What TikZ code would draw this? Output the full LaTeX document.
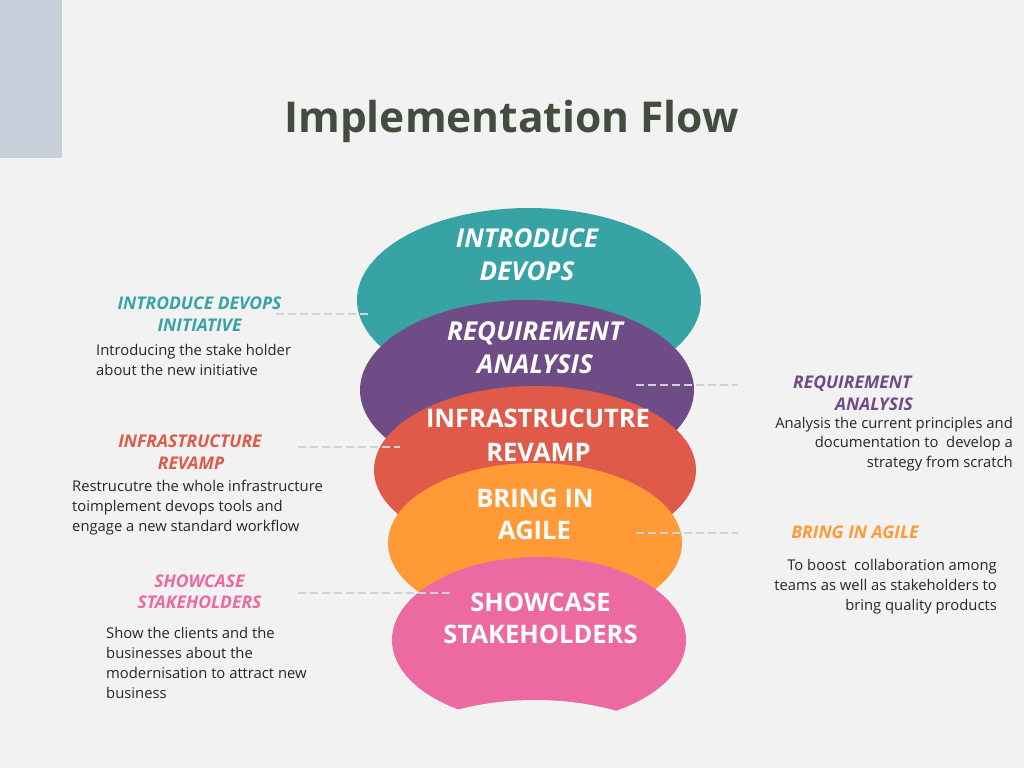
\documentclass[tikz,border=0pt]{standalone}
\usepackage{fontspec}
\setmainfont{Open Sans}
\definecolor{bgc}{HTML}{F1F2F1}
\definecolor{sidec}{HTML}{C8D0DB}
\definecolor{titlec}{HTML}{444C40}
\definecolor{tealc}{HTML}{38A3A5}
\definecolor{purplec}{HTML}{6F4C85}
\definecolor{coralc}{HTML}{E05A49}
\definecolor{orangec}{HTML}{FF9A36}
\definecolor{pinkc}{HTML}{EC69A1}
\definecolor{linec}{HTML}{CDD2DC}
\definecolor{bodyc}{HTML}{262626}
\begin{document}
\begin{tikzpicture}[x=1pt,y=-1pt,
  el/.style={font=\fontsize{25.5}{30}\selectfont\bfseries, text=white, inner sep=0pt, anchor=base},
  eli/.style={el, font=\fontsize{26}{30}\selectfont\bfseries\itshape},
  hd/.style={font=\fontsize{17.5}{20}\selectfont\bfseries\itshape, inner sep=0pt, anchor=base},
  body/.style={font=\fontsize{14.8}{20}\selectfont, text=bodyc, inner sep=0pt},
  bw/.style={body, anchor=base west},
  be/.style={body, anchor=base east},
  conn/.style={draw=linec, line width=1.5pt, dash pattern=on 8pt off 4pt}
]
\useasboundingbox (0,0) rectangle (1024,768);
\fill[bgc] (0,0) rectangle (1024,768);
\fill[sidec] (0,0) rectangle (62,158);

\node[font=\fontsize{42.5}{46}\selectfont\bfseries, text=titlec, inner sep=0pt, anchor=base] (title) at (511.5,132) {Implementation Flow};

% ellipses
\fill[tealc] (529,300) ellipse [x radius=172pt, y radius=92pt];
\fill[purplec] (527,390) ellipse [x radius=167pt, y radius=90pt];
\fill[coralc] (535,470) ellipse [x radius=161pt, y radius=84pt];
\fill[orangec] (535,543) ellipse [x radius=147pt, y radius=80pt];
\fill[pinkc] (539,640) ellipse [x radius=147pt, y radius=83pt];
\begin{scope}
  \clip (539,640) ellipse [x radius=148pt, y radius=84pt];
  \fill[bgc] (535,807) ellipse [x radius=185pt, y radius=107pt];
\end{scope}

% ellipse texts
\node[eli] (e1a) at (527,247) {INTRODUCE};
\node[eli] (e1b) at (527,280) {DEVOPS};
\node[eli] (e2a) at (535,340) {REQUIREMENT};
\node[eli] (e2b) at (535,373) {ANALYSIS};
\node[el] (e3a) at (538,427) {INFRASTRUCUTRE};
\node[el] (e3b) at (538.5,461) {REVAMP};
\node[el] (e4a) at (535,507) {BRING IN};
\node[el] (e4b) at (534.5,539) {AGILE};
\node[el] (e5a) at (540.5,611) {SHOWCASE};
\node[el] (e5b) at (540.5,643) {STAKEHOLDERS};

% connectors
\coordinate (c1a) at (276,314); \coordinate (c1b) at (372,314);
\coordinate (c2a) at (636,385); \coordinate (c2b) at (738,385);
\coordinate (c3a) at (298,447); \coordinate (c3b) at (400,447);
\coordinate (c4a) at (636,533); \coordinate (c4b) at (738,533);
\coordinate (c5a) at (298,593); \coordinate (c5b) at (452,593);
\draw[conn] (c1a) -- (c1b);
\draw[conn] (c2a) -- (c2b);
\draw[conn] (c3a) -- (c3b);
\draw[conn] (c4a) -- (c4b);
\draw[conn] (c5a) -- (c5b);

% left labels
\node[hd, text=tealc] (l1a) at (199.5,309) {INTRODUCE DEVOPS};
\node[hd, text=tealc] (l1b) at (199.5,331) {INITIATIVE};
\node[bw] (b1a) at (96,355) {Introducing the stake holder};
\node[bw] (b1b) at (96,375) {about the new initiative};

\node[hd, text=coralc] (l3a) at (190,447) {INFRASTRUCTURE};
\node[hd, text=coralc] (l3b) at (191,469) {REVAMP};
\node[bw] (b3a) at (72,491) {Restrucutre the whole infrastructure};
\node[bw] (b3b) at (72,511) {toimplement devops tools and};
\node[bw] (b3c) at (72,531) {engage a new standard workflow};

\node[hd, text=pinkc] (l5a) at (199.5,587) {SHOWCASE};
\node[hd, text=pinkc] (l5b) at (199.5,608) {STAKEHOLDERS};
\node[bw] (b5a) at (106,638) {Show the clients and the};
\node[bw] (b5b) at (106,658) {businesses about the};
\node[bw] (b5c) at (106,678) {modernisation to attract new};
\node[bw] (b5d) at (106,698) {business};

% right labels
\node[hd, text=purplec, anchor=base west] (l2a) at (793,388) {REQUIREMENT};
\node[hd, text=purplec, anchor=base west] (l2b) at (835,410) {ANALYSIS};
\node[be] (b2a) at (1013,428) {Analysis the current principles and};
\node[be] (b2b) at (1013,447) {documentation to\ \ develop a};
\node[be] (b2c) at (1013,467) {strategy from scratch};

\node[hd, text=orangec] (l4a) at (855,538) {BRING IN AGILE};
\node[be] (b4a) at (997,570) {To boost\ \ collaboration among};
\node[be] (b4b) at (997,590) {teams as well as stakeholders to};
\node[be] (b4c) at (997,610) {bring quality products};
\end{tikzpicture}
\end{document}
